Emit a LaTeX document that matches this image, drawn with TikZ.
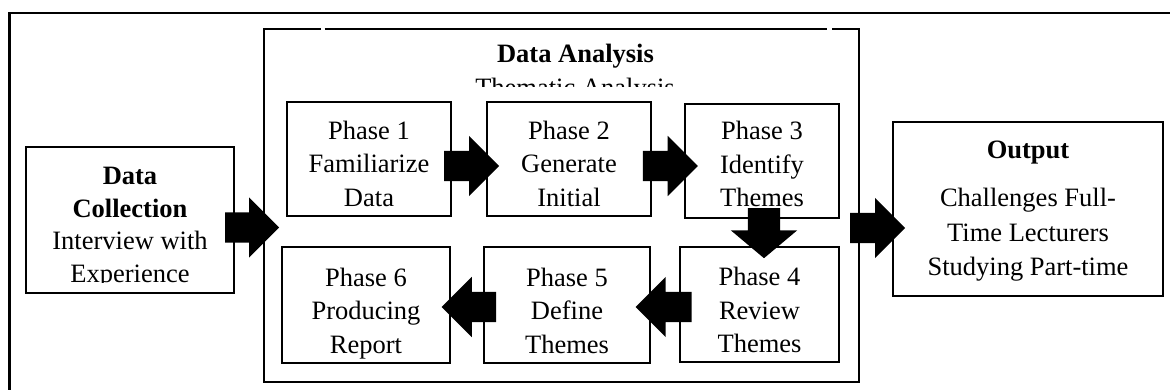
\documentclass[tikz,border=0pt]{standalone}
\usepackage{fontspec}
\setmainfont{Liberation Serif}
\usetikzlibrary{shapes.arrows}
\begin{document}
\begin{tikzpicture}[x=1pt,y=-1pt,
  box/.style={draw, line width=2.1pt, inner sep=0pt},
  frameline/.style={line width=2.1pt},
  txt/.style={font=\fontsize{26.5}{33.5}\selectfont, align=center, inner sep=0pt, anchor=north},
  blockarrow/.style={single arrow, fill=black, draw=none, inner xsep=0pt, inner ysep=15pt,
    minimum width=60pt, single arrow head extend=15pt, single arrow tip angle=90, anchor=tail}]
\useasboundingbox (0,0) rectangle (1170,390);

% outer frame (only top and left edges visible)
\draw[frameline] (1175,13) -- (9.5,13) -- (9.5,395);

% Data Analysis frame with two small gaps in its top edge
\draw[frameline] (321,29) -- (264,29) -- (264,382) -- (859,382) -- (859,29) -- (832,29);
\draw[frameline] (324.5,29) -- (827,29);

% boxes
\node[box, minimum width=208pt, minimum height=146pt] (dc) at (130,220) {};
\node[box, minimum width=164pt, minimum height=114pt] (p1) at (369,159) {};
\node[box, minimum width=164pt, minimum height=114pt] (p2) at (569,159) {};
\node[box, minimum width=154pt, minimum height=114pt] (p3) at (762,161) {};
\node[box, minimum width=159pt, minimum height=115pt] (p4) at (759.5,304.5) {};
\node[box, minimum width=166pt, minimum height=116pt] (p5) at (567,305) {};
\node[box, minimum width=168pt, minimum height=116pt] (p6) at (366,305) {};
\node[box, minimum width=270pt, minimum height=174pt] (out) at (1028,209) {};

% titles
\node[txt] (dat) at (575.5,44) {\bfseries Data Analysis};
\begin{scope}
  \clip (266,31) rectangle (857,87);
  \node[txt] (tha) at (575,77.5) {Thematic Analysis};
\end{scope}

% box texts
\begin{scope}
  \clip (28,149) rectangle (232,282);
  \node[txt, font=\fontsize{26.5}{32.5}\selectfont] (dct) at (130,167) {\textbf{Data}\\\textbf{Collection}\\Interview with\\Experience};
\end{scope}
\node[txt] (p1t) at (369,120.5) {Phase 1\\Familiarize\\Data};
\node[txt] (p2t) at (569,120.5) {Phase 2\\Generate\\Initial};
\node[txt] (p3t) at (762,121) {Phase 3\\Identify\\Themes};
\node[txt] (p4t) at (759.5,267) {Phase 4\\Review\\Themes};
\node[txt] (p5t) at (567,267.5) {Phase 5\\Define\\Themes};
\node[txt] (p6t) at (366,267.5) {Phase 6\\Producing\\Report};
\node[txt, font=\fontsize{26.5}{34.5}\selectfont] (outt) at (1028,140.5) {\textbf{Output}\\[14pt]Challenges Full-\\Time Lecturers\\Studying Part-time};

% block arrows
\node[blockarrow, minimum height=54pt] (a1) at (225,227.5) {};
\node[blockarrow, minimum height=55pt] (a2) at (444,166) {};
\node[blockarrow, minimum height=55pt] (a3) at (642.7,166) {};
\node[blockarrow, minimum height=50pt, inner ysep=16pt, minimum width=66pt, single arrow head extend=17pt, single arrow tip angle=100, rotate=-90] (a4) at (764,208) {};
\node[blockarrow, minimum height=55pt] (a5) at (850,228) {};
\node[blockarrow, minimum height=56pt, rotate=180] (a6) at (691.7,307) {};
\node[blockarrow, minimum height=54.5pt, rotate=180] (a7) at (496.4,307) {};
\end{tikzpicture}
\end{document}
